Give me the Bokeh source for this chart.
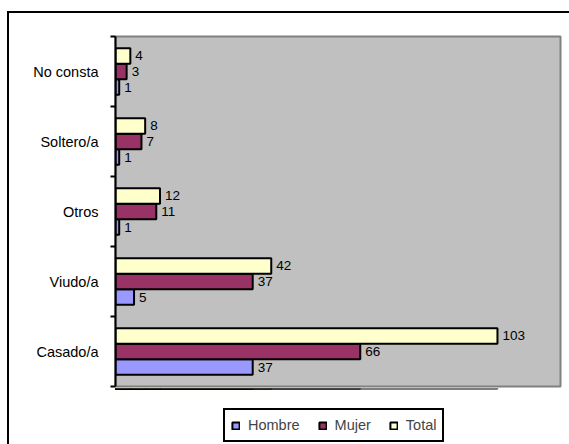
import numpy as np
from bokeh.plotting import figure
from bokeh.layouts import column
from bokeh.models import (Range1d, FixedTicker, LabelSet, ColumnDataSource,
                          Legend, LegendItem)
from bokeh.core.properties import value
from bokeh.embed import file_html
from bokeh.resources import INLINE

categories = ["Casado/a", "Viudo/a", "Otros", "Soltero/a", "No consta"]
hombre = [37, 5, 1, 1, 1]
mujer = [66, 37, 11, 7, 3]
total = [103, 42, 12, 8, 4]
series_names = ["Hombre", "Mujer", "Total"]
series_values = [hombre, mujer, total]
colors = ["#9999FF", "#993366", "#FFFFCC"]

FONT = "Liberation Sans"
n = len(categories)
centers = np.arange(n) + 0.5
bar_h = 1 / 4.5
offsets = [-bar_h, 0.0, bar_h]

# main chart
p = figure(width=560, height=375, x_range=Range1d(0, 120), y_range=Range1d(0, n),
           output_backend="svg", toolbar_location=None, x_axis_location=None,
           min_border_left=106, min_border_right=9, min_border_top=23, min_border_bottom=2)
p.background_fill_color = "#C0C0C0"
p.border_fill_color = "white"
p.outline_line_color = "#808080"
p.outline_line_width = 2
p.grid.visible = False

yax = p.yaxis[0]
yax.ticker = FixedTicker(ticks=list(centers), minor_ticks=list(range(n + 1)))
yax.major_label_overrides = {float(c): lab for c, lab in zip(centers, categories)}
yax.major_tick_line_color = None
yax.major_tick_out = 0
yax.major_tick_in = 0
yax.minor_tick_out = 5
yax.minor_tick_in = 0
yax.minor_tick_line_color = "black"
yax.minor_tick_line_width = 2
yax.axis_line_color = "black"
yax.axis_line_width = 2
yax.major_label_standoff = 12
yax.major_label_text_font = FONT
yax.major_label_text_font_size = "14.5px"
yax.major_label_text_color = "black"

sources = []
for vals, col, off in zip(series_values, colors, offsets):
    src = ColumnDataSource(dict(y=centers + off, val=vals, txt=[str(v) for v in vals]))
    sources.append(src)
    p.hbar(y="y", left=0, right="val", height=bar_h, source=src,
           fill_color=col, line_color="black", line_width=2)
    p.add_layout(LabelSet(x="val", y="y", text="txt", source=src, x_offset=5,
                          text_baseline="middle", text_font=value(FONT),
                          text_font_size="13.5px", text_color="black"))

# legend strip (its bars lie outside its view; only the legend shows)
q = figure(width=560, height=56, x_range=Range1d(0, 120), y_range=Range1d(-20, -10),
           output_backend="svg", toolbar_location=None,
           x_axis_location=None, y_axis_location=None,
           min_border_left=0, min_border_right=0, min_border_top=0, min_border_bottom=0)
q.outline_line_color = None
q.background_fill_color = "white"
q.border_fill_color = "white"
q.grid.visible = False
items = []
for name, col, src in zip(series_names, colors, sources):
    r = q.hbar(y="y", left=0, right="val", height=bar_h, source=src,
               fill_color=col, line_color="black", line_width=2)
    items.append(LegendItem(label=name, renderers=[r]))
legend = Legend(items=items, orientation="horizontal", location=(108, 2),
                border_line_color="black", border_line_width=2, border_line_alpha=1,
                background_fill_color="white", background_fill_alpha=1,
                glyph_width=9, glyph_height=9, label_standoff=8, spacing=18,
                padding=6, margin=0, label_height=18,
                label_text_font=FONT, label_text_font_size="14.5px")
q.add_layout(legend, "center")

layout = column(p, q, spacing=0)
layout.margin = (11, 0, 0, 7)
layout.styles = {"border-left": "2px solid black", "border-top": "2px solid black"}

open("out.html", "w").write(file_html(layout, INLINE))
